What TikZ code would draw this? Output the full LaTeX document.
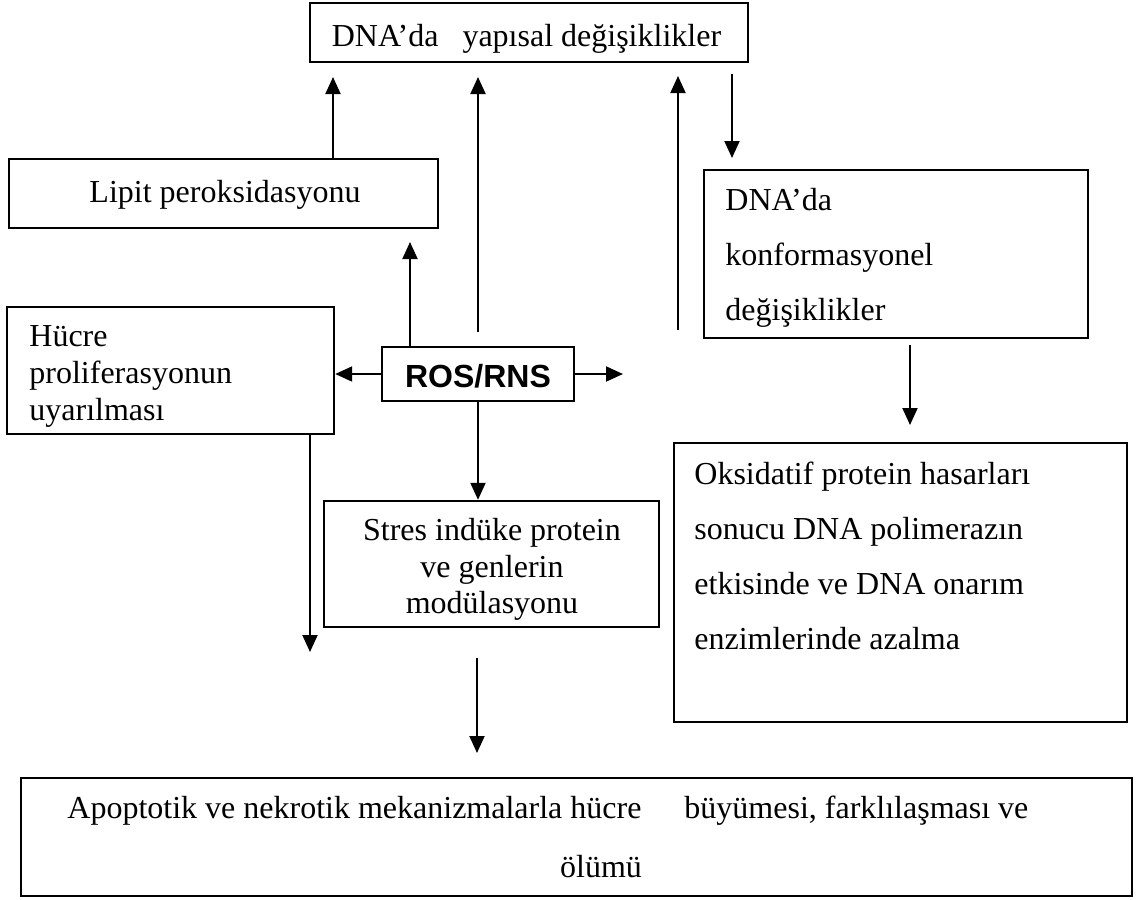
\documentclass[tikz,border=0pt]{standalone}
\usepackage{fontspec}
\setmainfont{Liberation Serif}
\newfontfamily\rosfont{Liberation Sans}
\usetikzlibrary{arrows.meta}
\tikzset{
  box/.style={draw, line width=1.2pt, inner sep=0pt, rectangle},
  txt/.style={inner sep=0pt, font=\fontsize{16}{18}\selectfont},
  arr/.style={line width=1pt, -{Triangle[width=7.5pt,length=8.5pt]}},
}
\begin{document}
\begin{tikzpicture}[x=0.5pt,y=-0.5pt]
\useasboundingbox (0,0) rectangle (1136,900);
% boxes
\node[box, minimum width=219pt, minimum height=29.5pt] (top) at (529,32.5) {};
\node[box, minimum width=214.5pt, minimum height=34.5pt] (lipit) at (223.5,193.5) {};
\node[box, minimum width=192pt, minimum height=84pt] (konf) at (896,254) {};
\node[box, minimum width=163.5pt, minimum height=63.5pt] (hucre) at (170.5,370.5) {};
\node[box, minimum width=96pt, minimum height=27pt] (ros) at (478,374) {};
\node[box, minimum width=167.5pt, minimum height=63pt] (stres) at (491.5,564) {};
\node[box, minimum width=226.5pt, minimum height=139.5pt] (oks) at (900.5,582.5) {};
\node[box, minimum width=555.5pt, minimum height=59pt] (son) at (576.5,837) {};
% texts
\node[txt, anchor=base] (topt) at (526.5,46) {DNA’da\ \ \ yapısal değişiklikler};
\node[txt, anchor=base] (lipitt) at (225,202) {Lipit peroksidasyonu};
\node[txt, anchor=base, font=\rosfont\bfseries\fontsize{16}{18}\selectfont] (rost) at (478,387) {ROS/RNS};
\node[txt, anchor=base west] (konf1) at (725,210) {DNA’da};
\node[txt, anchor=base west] (konf2) at (725,265) {konformasyonel};
\node[txt, anchor=base west] (konf3) at (725,320) {değişiklikler};
\node[txt, anchor=base west] (hucre1) at (29,346) {Hücre};
\node[txt, anchor=base west] (hucre2) at (29,383) {proliferasyonun};
\node[txt, anchor=base west] (hucre3) at (29,420) {uyarılması};
\node[txt, anchor=base] (stres1) at (492,540) {Stres indüke protein};
\node[txt, anchor=base] (stres2) at (492,577) {ve genlerin};
\node[txt, anchor=base] (stres3) at (492,613) {modülasyonu};
\node[txt, anchor=base west] (oks1) at (694,484) {Oksidatif protein hasarları};
\node[txt, anchor=base west] (oks2) at (694,539) {sonucu DNA polimerazın};
\node[txt, anchor=base west] (oks3) at (694,594) {etkisinde ve DNA onarım};
\node[txt, anchor=base west] (oks4) at (694,649) {enzimlerinde azalma};
\node[txt, anchor=base west] (son1) at (67,818) {Apoptotik ve nekrotik mekanizmalarla hücre\hspace{21.5pt}büyümesi, farklılaşması ve};
\node[txt, anchor=base] (son2) at (601,877) {ölümü};
% free ends of connectors
\coordinate (t1) at (333,77);
\coordinate (t2) at (410,242);
\coordinate (s3) at (478,332);
\coordinate (t3) at (478,77);
\coordinate (s4) at (678,330);
\coordinate (t4) at (678,76);
\coordinate (s5) at (732,74);
\coordinate (t5) at (732,158);
\coordinate (t7) at (623,374);
\coordinate (t9) at (310,652);
\coordinate (s10) at (910,345);
\coordinate (t10) at (910,425);
\coordinate (s11) at (477,658);
\coordinate (t11) at (477,753);
% connectors
\draw[arr] (t1 |- lipit.north) -- (t1);
\draw[arr] (t2 |- ros.north) -- (t2);
\draw[arr] (s3) -- (t3);
\draw[arr] (s4) -- (t4);
\draw[arr] (s5) -- (t5);
\draw[arr] (ros.west) -- (ros.west -| hucre.east);
\draw[arr] (ros.east) -- (t7);
\draw[arr] (ros.south) -- (ros.south |- stres.north);
\draw[arr] (t9 |- hucre.south) -- (t9);
\draw[arr] (s10) -- (t10);
\draw[arr] (s11) -- (t11);
\end{tikzpicture}
\end{document}
